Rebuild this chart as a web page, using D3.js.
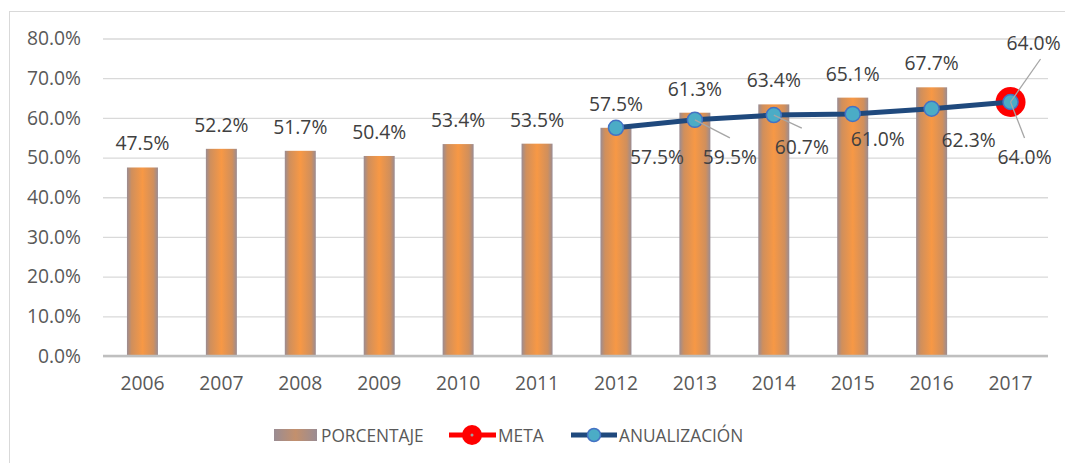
<!DOCTYPE html>
<html><head><meta charset="utf-8">
<script src="https://cdn.jsdelivr.net/npm/d3@7"></script>
<style>body{margin:0;background:#fff}svg{display:block}</style>
</head><body><svg id="c" width="1065" height="463"></svg>
<script>
const years = ["2006","2007","2008","2009","2010","2011","2012","2013","2014","2015","2016","2017"];
const porcentaje = [47.5,52.2,51.7,50.4,53.4,53.5,57.5,61.3,63.4,65.1,67.7,null];
const anualYears = ["2012","2013","2014","2015","2016","2017"];
const anualizacion = [57.5,59.5,60.7,61.0,62.3,64.0];
const metaYears = ["2017"];
const meta = [64.0];
const yTicks = [0,10,20,30,40,50,60,70,80];
// label offsets (dx, dy) from the point to the label centre, and whether a leader line is drawn
const anualLabelOffsets = [[41,29],[35,37],[28,32],[25,25],[37,31],[14,55]];
const anualLeaders = [false,true,true,false,false,true];
const metaLabelOffsets = [[23,-59]];

const svg = d3.select("#c");
const fontFam = '"Open Sans",sans-serif';
const fs = "19.3px";
// chart border
svg.append("rect").attr("x",9.5).attr("y",11.5).attr("width",1080).attr("height",470)
  .attr("fill","none").attr("stroke","#d9d9d9").attr("stroke-width",1);

const x = d3.scaleBand().domain(years).range([103,1050]);
const y = d3.scaleLinear().domain([0,80]).range([356,38.5]);

const defs = svg.append("defs");
const g = defs.append("linearGradient").attr("id","barg").attr("x1","0").attr("x2","1").attr("y1","0").attr("y2","0");
[[0,"#9a8c93"],[0.15,"#d08f5c"],[0.5,"#f79845"],[0.85,"#d08f5c"],[1,"#9a8c93"]].forEach(([o,c])=>g.append("stop").attr("offset",o).attr("stop-color",c));
const lg = defs.append("linearGradient").attr("id","legg").attr("x1","0").attr("x2","1");
[[0,"#9a8c93"],[0.5,"#c3906d"],[1,"#9a8c93"]].forEach(([o,c])=>lg.append("stop").attr("offset",o).attr("stop-color",c));

// gridlines
const yAxis = d3.axisLeft(y).tickValues(yTicks).tickSize(-(1048-103)).tickFormat(d=>d.toFixed(1)+"%").tickPadding(22);
const ga = svg.append("g").attr("transform","translate(103,0)").call(yAxis);
ga.select(".domain").remove();
ga.selectAll(".tick line").attr("stroke","#d9d9d9").attr("stroke-width",1.3);
ga.selectAll(".tick text").attr("fill","#595959").style("font-size",fs).style("font-family",fontFam);

// bars
const bw = 31;
const barData = years.map((yr,i)=>({yr,v:porcentaje[i]})).filter(d=>d.v!=null);
svg.append("g").selectAll("rect").data(barData).join("rect")
  .attr("x",d=>x(d.yr)+x.bandwidth()/2-bw/2).attr("width",bw)
  .attr("y",d=>y(d.v)).attr("height",d=>y(0)-y(d.v)).attr("fill","url(#barg)");

// x axis
const xAxis = d3.axisBottom(x).tickSize(0).tickPadding(20);
const gx = svg.append("g").attr("transform","translate(0,356)").call(xAxis);
gx.select(".domain").attr("stroke","#bfbfbf").attr("stroke-width",2.5).attr("d","M103,0H1048");
gx.selectAll(".tick text").attr("fill","#595959").style("font-size",fs).style("font-family",fontFam);

// bar labels
svg.append("g").selectAll("text").data(barData).join("text")
  .attr("x",d=>x(d.yr)+x.bandwidth()/2).attr("y",d=>y(d.v)-17)
  .attr("text-anchor","middle").attr("fill","#404040").style("font-size",fs).style("font-family",fontFam)
  .text(d=>d.v.toFixed(1)+"%");

const cx = yr=>x(yr)+x.bandwidth()/2;
const anual = anualYears.map((yr,i)=>({yr,v:anualizacion[i],o:anualLabelOffsets[i],lead:anualLeaders[i]}));
const metaD = metaYears.map((yr,i)=>({yr,v:meta[i],o:metaLabelOffsets[i]}));

// meta marker
svg.append("g").selectAll("circle").data(metaD).join("circle")
  .attr("cx",d=>cx(d.yr)).attr("cy",d=>y(d.v)).attr("r",15).attr("fill","#ff0000");

// line
const line = d3.line().x(d=>cx(d.yr)).y(d=>y(d.v));
svg.append("path").datum(anual).attr("d",line).attr("fill","none").attr("stroke","#1f497d").attr("stroke-width",5);
svg.append("g").selectAll("circle").data(anual).join("circle")
  .attr("cx",d=>cx(d.yr)).attr("cy",d=>y(d.v)).attr("r",7.5)
  .attr("fill","#4bacc6").attr("stroke","#4472c4").attr("stroke-width",1.5);

// leader lines (on top)
const leaders = svg.append("g").attr("stroke","#a6a6a6").attr("stroke-width",1.3);
anual.filter(d=>d.lead).forEach(d=>{
  const px=cx(d.yr), py=y(d.v);
  leaders.append("line").attr("x1",px).attr("y1",py).attr("x2",px+d.o[0]).attr("y2",py+d.o[1]-19);
});
metaD.forEach(d=>{
  const px=cx(d.yr), py=y(d.v);
  leaders.append("line").attr("x1",px).attr("y1",py).attr("x2",px+30).attr("y2",py-43);
});

// line labels
svg.append("g").selectAll("text").data(anual.concat(metaD)).join("text")
  .attr("x",d=>cx(d.yr)+d.o[0]).attr("y",d=>y(d.v)+d.o[1]+7)
  .attr("text-anchor","middle").attr("fill","#404040").style("font-size",fs).style("font-family",fontFam)
  .text(d=>d.v.toFixed(1)+"%");

// legend
const leg = svg.append("g");
const ly = 435;
leg.append("rect").attr("x",274).attr("y",ly-6).attr("width",43).attr("height",12).attr("fill","url(#legg)");
leg.append("text").attr("x",321).attr("y",ly+6.5).text("PORCENTAJE");
leg.append("line").attr("x1",449).attr("x2",496).attr("y1",ly).attr("y2",ly).attr("stroke","#ff0000").attr("stroke-width",5);
leg.append("circle").attr("cx",472).attr("cy",ly).attr("r",10).attr("fill","#ff0000");
leg.append("circle").attr("cx",472).attr("cy",ly).attr("r",1.5).attr("fill","#a0a0a0");
leg.append("text").attr("x",498).attr("y",ly+6.5).text("META");
leg.append("line").attr("x1",571).attr("x2",617).attr("y1",ly).attr("y2",ly).attr("stroke","#1f497d").attr("stroke-width",5);
leg.append("circle").attr("cx",594).attr("cy",ly).attr("r",6.5).attr("fill","#4bacc6").attr("stroke","#4472c4").attr("stroke-width",1.5);
leg.append("text").attr("x",619).attr("y",ly+6.5).text("ANUALIZACIÓN");
leg.selectAll("text").attr("fill","#595959").style("font-size","17.3px").style("font-family",fontFam);
</script></body></html>
